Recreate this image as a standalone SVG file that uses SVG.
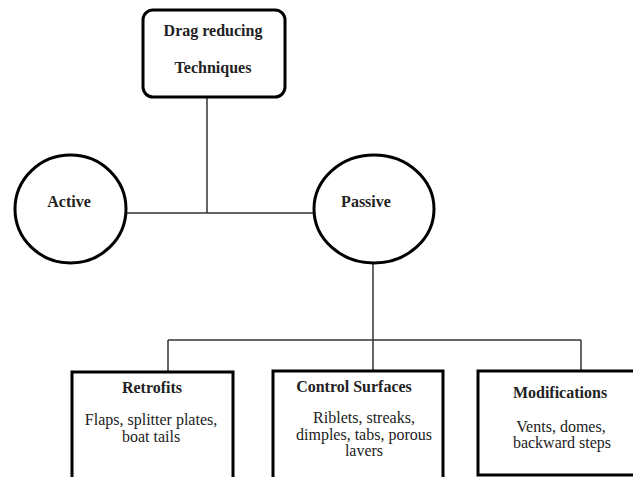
<svg xmlns="http://www.w3.org/2000/svg" width="633" height="477" viewBox="0 0 633 477">
<style>
.node{fill:#fff;stroke:#000;stroke-width:3}
.conn{stroke:#333;stroke-width:1.5;fill:none}
text{font-family:'Liberation Serif','Times New Roman','DejaVu Serif',serif;font-size:16px;fill:#222;text-anchor:middle}
.b{font-weight:bold}
</style>
<rect width="633" height="477" fill="#fff"/>
<g id="connectors">
<line class="conn" x1="207" y1="97" x2="207" y2="213"/>
<line class="conn" x1="126" y1="213" x2="314" y2="213"/>
<line class="conn" x1="373" y1="263" x2="373" y2="371"/>
<line class="conn" x1="168" y1="340" x2="581" y2="340"/>
<line class="conn" x1="168" y1="340" x2="168" y2="371"/>
<line class="conn" x1="581" y1="340" x2="581" y2="371"/>
</g>
<g id="root">
<rect class="node" x="143" y="10" width="142" height="87" rx="10"/>
<text class="b" x="213" y="36">Drag reducing</text>
<text class="b" x="213" y="73">Techniques</text>
</g>
<g id="active">
<ellipse class="node" cx="70.5" cy="209" rx="55.5" ry="54"/>
<text class="b" x="69" y="207">Active</text>
</g>
<g id="passive">
<ellipse class="node" cx="374" cy="209" rx="60" ry="54"/>
<text class="b" x="366" y="207">Passive</text>
</g>
<g id="retrofits">
<rect class="node" x="72" y="372" width="161" height="110"/>
<text class="b" x="152" y="393">Retrofits</text>
<text class="r" x="151" y="425">Flaps, splitter plates,</text>
<text class="r" x="151" y="442">boat tails</text>
</g>
<g id="control">
<rect class="node" x="273" y="371" width="170" height="110"/>
<text class="b" x="354" y="392">Control Surfaces</text>
<text class="r" x="364" y="423">Riblets, streaks,</text>
<text class="r" x="364" y="440">dimples, tabs, porous</text>
<text class="r" x="364" y="456">lavers</text>
</g>
<g id="modifications">
<rect class="node" x="478" y="371" width="170" height="104"/>
<text class="b" x="560" y="398">Modifications</text>
<text class="r" x="561" y="432">Vents, domes,</text>
<text class="r" x="562" y="448">backward steps</text>
</g>
</svg>
